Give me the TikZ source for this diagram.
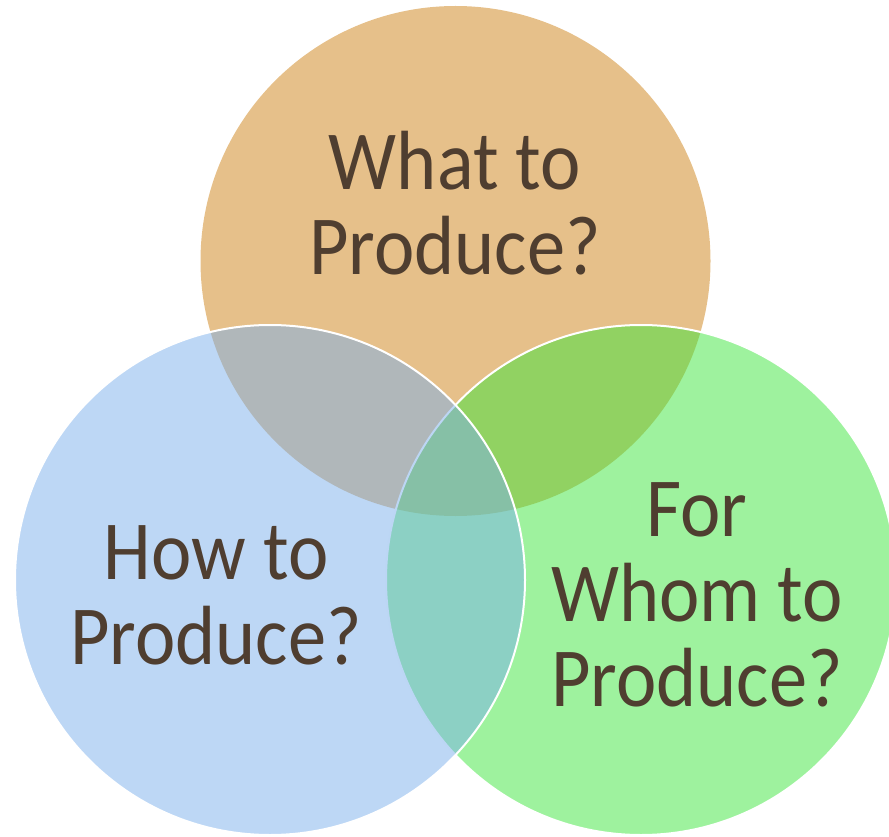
\documentclass[tikz,border=0pt]{standalone}
\usepackage{fontspec}
\setmainfont[FakeStretch=0.91]{Carlito}
\begin{document}
\begin{tikzpicture}[x=1pt,y=-1pt,
  ring/.style={circle, minimum size=510pt, inner sep=0pt, fill opacity=0.5},
  label/.style={align=center, text=textbrown, anchor=base,
    font=\fontsize{84}{85}\selectfont}]
\definecolor{ochre}{RGB}{205,129,21}
\definecolor{sky}{RGB}{123,175,235}
\definecolor{leaf}{RGB}{61,229,61}
\definecolor{textbrown}{RGB}{79,62,48}
\useasboundingbox (0,0) rectangle (889,837);
% three overlapping circles, drawn top, right, left
\node[ring, fill=ochre] (what) at (455.5,261) {};
\node[ring, fill=leaf, draw=white, draw opacity=1, line width=2pt] (whom) at (641,580) {};
\node[ring, fill=sky, draw=white, draw opacity=1, line width=2pt] (how) at (270,580) {};
% labels, placed by the baseline of their last line
\node[label] (twhat) at (455,274) {What to\\Produce?};
\node[label] (thow) at (216,664) {How to\\Produce?};
\node[label] (twhom) at (697,706) {For\\Whom to\\Produce?};
\end{tikzpicture}
\end{document}
